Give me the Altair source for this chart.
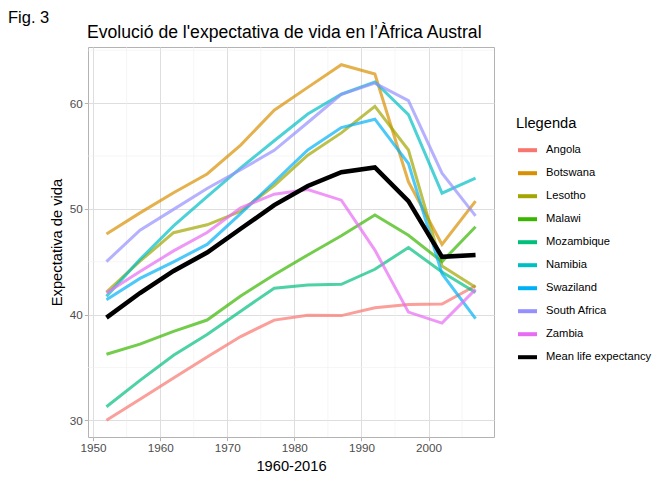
import altair as alt
import pandas as pd

# Gapminder life expectancy, Southern Africa, 1952-2007
years = [1952, 1957, 1962, 1967, 1972, 1977, 1982, 1987, 1992, 1997, 2002, 2007]

angola = [30.015, 31.999, 34.000, 35.985, 37.928, 39.483, 39.942, 39.906, 40.647, 40.963, 41.003, 42.731]
botswana = [47.622, 49.618, 51.520, 53.298, 56.024, 59.319, 61.484, 63.622, 62.745, 52.556, 46.634, 50.728]
lesotho = [42.138, 45.047, 47.747, 48.492, 49.767, 52.208, 55.078, 57.180, 59.685, 55.558, 44.593, 42.592]
malawi = [36.256, 37.207, 38.410, 39.487, 41.766, 43.767, 45.642, 47.457, 49.420, 47.495, 45.009, 48.303]
mozambique = [31.286, 33.779, 36.161, 38.113, 40.328, 42.495, 42.795, 42.861, 44.284, 46.344, 44.026, 42.082]
namibia = [41.725, 45.226, 48.386, 51.159, 53.867, 56.437, 58.968, 60.835, 61.999, 58.909, 51.479, 52.906]
swaziland = [41.407, 43.424, 44.992, 46.633, 49.552, 52.537, 55.561, 57.678, 58.474, 54.289, 43.869, 39.613]
south_africa = [45.009, 47.985, 49.951, 51.927, 53.696, 55.527, 58.161, 60.834, 61.888, 60.236, 53.365, 49.339]
zambia = [42.038, 44.077, 46.023, 47.768, 50.107, 51.386, 51.821, 50.821, 46.100, 40.238, 39.193, 42.384]

countries = ["Angola", "Botswana", "Lesotho", "Malawi", "Mozambique",
             "Namibia", "Swaziland", "South Africa", "Zambia"]
series = [angola, botswana, lesotho, malawi, mozambique,
          namibia, swaziland, south_africa, zambia]
mean_label = "Mean life expectancy"

legend_order = countries + [mean_label]
palette = ["#F8766D", "#D89000", "#A3A500", "#39B600", "#00BF7D",
           "#00BFC4", "#00B0F6", "#9590FF", "#E76BF3", "#000000"]

x_major = [1950, 1960, 1970, 1980, 1990, 2000]
x_minor = [1955, 1965, 1975, 1985, 1995, 2005]
y_major = [30, 40, 50, 60]
y_minor = [35, 45, 55, 65]

title_text = "Evolució de l'expectativa de vida en l’Àfrica Austral"
tag_text = "Fig. 3"

rows = []
for name, vals in zip(countries, series):
    for yr, v in zip(years, vals):
        rows.append({"pais": name, "any": yr, "vida": v})
df = pd.DataFrame(rows)

mean_df = df.groupby("any", as_index=False)["vida"].mean()
mean_df["pais"] = mean_label

x_scale = alt.Scale(domain=[1949.25, 2009.75], nice=False, zero=False)
y_scale = alt.Scale(domain=[28.43, 65.30], nice=False, zero=False)
color_scale = alt.Scale(domain=legend_order, range=palette)

grid_color = "#dedede"
minor_color = "#f0f0f0"

minor_x = alt.Chart(pd.DataFrame({"v": x_minor})).mark_rule(
    color=minor_color, strokeWidth=0.6
).encode(x=alt.X("v:Q", scale=x_scale))

minor_y = alt.Chart(pd.DataFrame({"v": y_minor})).mark_rule(
    color=minor_color, strokeWidth=0.6
).encode(y=alt.Y("v:Q", scale=y_scale))

x_axis = alt.Axis(values=x_major, format="d", title="1960-2016", grid=True,
                  gridColor=grid_color, gridWidth=1, tickColor="#b3b3b3",
                  tickSize=3.7, labelColor="#4d4d4d", labelFontSize=11.7,
                  labelPadding=2, titleFontSize=14.7, titleFontWeight="normal",
                  titleColor="#000000", titlePadding=4, domain=False,
                  labelFlush=False)
y_axis = alt.Axis(values=y_major, format="d", title="Expectativa de vida", grid=True,
                  gridColor=grid_color, gridWidth=1, tickColor="#b3b3b3",
                  tickSize=3.7, labelColor="#4d4d4d", labelFontSize=11.7,
                  labelPadding=2, titleFontSize=14.7, titleFontWeight="normal",
                  titleColor="#000000", titlePadding=5, domain=False)

legend = alt.Legend(title="Llegenda", orient="none", legendX=428, legendY=69,
                    symbolType="stroke", symbolStrokeWidth=4, symbolSize=361,
                    symbolOpacity=1, labelFontSize=11.2, titleFontSize=14.7,
                    titleFontWeight="normal", titlePadding=8, rowPadding=3,
                    labelOffset=7, labelColor="#000000", titleColor="#000000",
                    labelLimit=200)

lines = alt.Chart(df).mark_line(strokeWidth=3, opacity=0.7).encode(
    x=alt.X("any:Q", scale=x_scale, axis=x_axis),
    y=alt.Y("vida:Q", scale=y_scale, axis=y_axis),
    color=alt.Color("pais:N", scale=color_scale, sort=legend_order, legend=legend),
    detail="pais:N",
)

mean_line = alt.Chart(mean_df).mark_line(strokeWidth=4.5, opacity=1).encode(
    x=alt.X("any:Q", scale=x_scale),
    y=alt.Y("vida:Q", scale=y_scale),
    color=alt.Color("pais:N", scale=color_scale, sort=legend_order, legend=legend),
)

fig_tag = alt.Chart(pd.DataFrame({"t": [tag_text]})).mark_text(
    align="left", baseline="alphabetic", fontSize=16.5, color="#000000"
).encode(x=alt.value(-80), y=alt.value(-24), text="t:N")

plot_title = alt.Chart(pd.DataFrame({"t": [title_text]})).mark_text(
    align="left", baseline="alphabetic", fontSize=17.6, color="#000000"
).encode(x=alt.value(-1), y=alt.value(-9.5), text="t:N")

chart = alt.layer(minor_x, minor_y, lines, mean_line, fig_tag, plot_title).properties(
    width=406,
    height=390,
    autosize=alt.AutoSizeParams(type="none"),
    padding={"left": 88, "top": 47, "right": 178, "bottom": 43},
).configure(
    font="Liberation Sans",
).configure_view(
    stroke="#b3b3b3", strokeWidth=1,
)

chart.save("out.html", embed_options={"renderer": "svg", "actions": False})
